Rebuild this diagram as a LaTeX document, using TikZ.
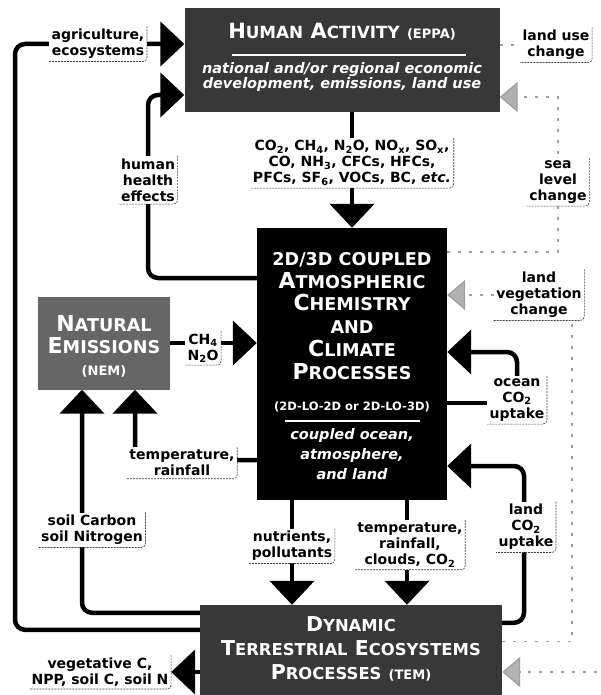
\documentclass[tikz,border=0pt]{standalone}
\usepackage{fontspec}
\setmainfont{DejaVu Sans}
\usetikzlibrary{arrows.meta,backgrounds}

\newcommand{\sm}[1]{\scalebox{0.8}{#1}}
\newcommand{\low}[1]{\textsubscript{#1}}

\tikzset{
  box/.style={fill=#1, inner sep=0pt},
  boxtext/.style={text=white, align=center, inner sep=0pt, anchor=north},
  tag/.style={fill=white, align=center, inner sep=2.5pt,
    font=\bfseries\fontsize{14}{16}\selectfont},
  bracket/.style={black!75, line width=0.6pt, rounded corners=4pt, dash pattern=on 2pt off 1pt},
  link/.style={line width=4.5pt, rounded corners=10pt},
  bigtip/.style={-{Triangle[length=24pt,width=44pt]}},
  feed/.style={gray!75, line width=1.3pt, dash pattern=on 3pt off 8pt,
    -{Triangle[length=18pt,width=30pt,fill=gray!60]}},
}

\begin{document}
\begin{tikzpicture}[x=1pt,y=-1pt]
\useasboundingbox (0,0) rectangle (601,695);

% model boxes
\node[box=black!78, minimum width=315pt, minimum height=104pt] (human) at (342,60) {};
\node[box=black, minimum width=190pt, minimum height=272pt] (atm) at (352,364) {};
\node[box=black!60, minimum width=132pt, minimum height=93pt] (nem) at (104,343) {};
\node[box=black!78, minimum width=302pt, minimum height=92pt] (tem) at (351,651) {};

% box texts
\node[boxtext, font=\bfseries\fontsize{21}{22}\selectfont] (humanhead) at (342,23)
  {H\sm{UMAN} A\sm{CTIVITY} {\fontsize{13}{14}\selectfont (EPPA)}};
\draw[white, line width=1.5pt] (232,55) -- (466,55);
\node[boxtext, font=\bfseries\itshape\fontsize{14.5}{15.5}\selectfont] (humannote) at (342,62)
  {national and/or regional economic\\development, emissions, land use};

\node[boxtext, font=\bfseries\fontsize{22}{22.8}\selectfont] (atmhead) at (352,252)
  {\sm{2D/3D COUPLED}\\A\sm{TMOSPHERIC}\\C\sm{HEMISTRY}\\\sm{AND}\\C\sm{LIMATE}\\P\sm{ROCESSES}};
\node[boxtext, font=\bfseries\fontsize{11.5}{13}\selectfont] (atmcode) at (352,402) {(2D-LO-2D or 2D-LO-3D)};
\draw[white, line width=1.5pt] (285,421) -- (420,421);
\node[boxtext, font=\bfseries\itshape\fontsize{14.5}{20}\selectfont] (atmnote) at (352,428)
  {coupled ocean,\\atmosphere,\\and land};

\node[boxtext, font=\bfseries\fontsize{22}{22}\selectfont] (nemtext) at (104,315)
  {N\sm{ATURAL}\\E\sm{MISSIONS}\\{\fontsize{13}{14}\selectfont (NEM)}};

\node[boxtext, font=\bfseries\fontsize{20.5}{24}\selectfont] (temtext) at (351,616)
  {D\sm{YNAMIC}\\T\sm{ERRESTRIAL} E\sm{COSYSTEMS}\\P\sm{ROCESSES} {\fontsize{13}{14}\selectfont (TEM)}};

% labels on the links
\node[tag] (agri) at (98,44) {agriculture,\\ecosystems};
\node[tag] (health) at (148,180) {human\\health\\effects};
\node[tag] (emis) at (352,163) {CO\low2, CH\low4, N\low2O, NO\low{x}, SO\low{x},\\CO, NH\low3, CFCs, HFCs,\\PFCs, SF\low6, VOCs, BC, \textit{etc.}};
\node[tag] (landuse) at (556,45) {land use\\change};
\node[tag] (sea) at (558,182) {sea\\level\\change};
\node[tag] (landveg) at (539,295) {land\\vegetation\\change};
\node[tag] (ocean) at (517,400) {ocean\\CO\low2\\uptake};
\node[tag] (ch4) at (203,348) {CH\low4\\N\low2O};
\node[tag] (heat) at (182,463) {temperature,\\rainfall};
\node[tag] (soil) at (92,530) {soil Carbon\\soil Nitrogen};
\node[tag] (nutr) at (292,546) {nutrients,\\pollutants};
\node[tag] (climate) at (410,545) {temperature,\\rainfall,\\clouds, CO\low2};
\node[tag] (land) at (526,527) {land\\CO\low2\\uptake};
\node[tag] (veg) at (100,672) {vegetative C,\\NPP, soil C, soil N};

\foreach \n in {agri,health,emis,landuse,sea,landveg,ocean,ch4,heat,soil,nutr,climate,land,veg}
  \draw[bracket] (\n.north east) |- (\n.south west);

\begin{scope}[on background layer]
% solid links
\draw[link, bigtip] ([yshift=-25pt]tem.north west) -| (15,44) -- (agri.east -| human.west);
\draw[link, bigtip] (atm.west |- 0,278) -| (148,95) -- (human.west |- 0,95);
\draw[link, bigtip] (atm.north |- human.south) -- (atm.north);
\draw[link, bigtip] (nem.east) -- (nem.east -| atm.west);
\draw[link, bigtip] ([yshift=-8pt]tem.north west) -| ([xshift=-22pt]nem.south);
\draw[link, bigtip] (atm.west |- 0,460) -| ([xshift=31pt]nem.south);
\draw[link, bigtip] ([xshift=-60pt]atm.south) -- ([xshift=-60pt]atm.south |- tem.north);
\draw[link, bigtip] ([xshift=55pt]atm.south) -- ([xshift=55pt]atm.south |- tem.north);
\draw[link, bigtip] ([yshift=-18pt]tem.north east) -| (524,466) -- (atm.east |- 0,466);
\draw[link] (atm.east |- 0,403) -- (ocean.west |- 0,403);
\draw[link, bigtip] (ocean.north) |- (atm.east |- 0,352);
\draw[link, bigtip] (tem.west |- veg.east) -- (veg.east);
% dashed feedbacks
\draw[feed] (atm.east |- 0,252) -| (558,97) -- (human.east |- 0,97);
\draw[feed, -] (human.east |- landuse.west) -- (landuse.west);
\draw[feed, -] ([yshift=-37pt]tem.north east) -| ([xshift=33pt]landveg.south);
\draw[feed] (landveg.west) -- (landveg.west -| atm.east);
\coordinate (rim) at (597,672);
\draw[feed] (rim) -- (tem.east |- rim);
\end{scope}
\end{tikzpicture}
\end{document}
